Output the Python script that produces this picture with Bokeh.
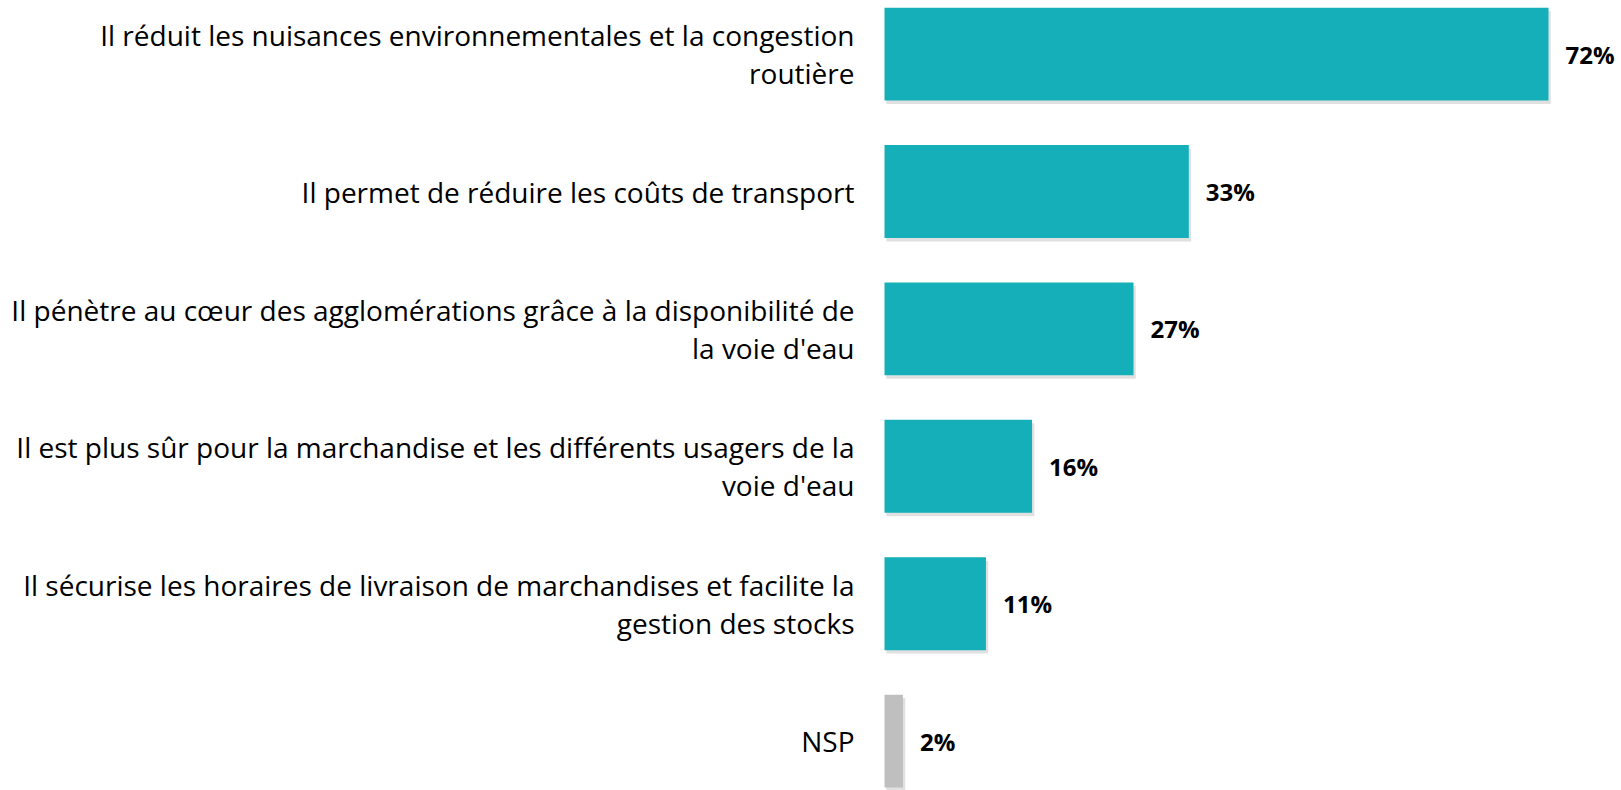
from bokeh.plotting import figure
from bokeh.models import ColumnDataSource, Range1d
from bokeh.core.properties import value
from bokeh.embed import file_html
from bokeh.resources import INLINE

categories = [
    "Il réduit les nuisances environnementales et la congestion\nroutière",
    "Il permet de réduire les coûts de transport",
    "Il pénètre au cœur des agglomérations grâce à la disponibilité de\nla voie d'eau",
    "Il est plus sûr pour la marchandise et les différents usagers de la\nvoie d'eau",
    "Il sécurise les horaires de livraison de marchandises et facilite la\ngestion des stocks",
    "NSP",
]
values = [72, 33, 27, 16, 11, 2]
value_labels = ["72%", "33%", "27%", "16%", "11%", "2%"]
colors = ["#14AFB8", "#14AFB8", "#14AFB8", "#14AFB8", "#14AFB8", "#BFBFBF"]

W, H = 1621, 790
px_per_unit = 9.222
x0_px = 884
y_step = 137.4
y0_px = 53.6

x_start = -x0_px / px_per_unit
x_end = (W - x0_px) / px_per_unit
y_top = -y0_px / y_step
y_bottom = (H - y0_px) / y_step

pos = list(range(len(categories)))
src = ColumnDataSource(dict(
    y=pos, v=values, lab=value_labels, cat=categories, col=colors,
    ys=[p + 0.025 for p in pos], vs=[v + 0.25 for v in values],
))

p = figure(width=W, height=H, output_backend="svg", toolbar_location=None,
           x_range=Range1d(x_start, x_end), y_range=Range1d(y_bottom, y_top),
           min_border=0)
p.axis.visible = False
p.grid.visible = False
p.outline_line_color = None
p.background_fill_color = "white"

# soft shadow
p.hbar(y="ys", left=0.2, right="vs", height=0.676, source=src,
       fill_color="#000000", fill_alpha=0.12, line_color=None)
p.hbar(y="y", left=0, right="v", height=0.676, source=src,
       fill_color="col", line_color=None)

p.text(x=0, y="y", text="cat", source=src, x_offset=-30,
       text_align="right", text_baseline="middle",
       text_font=value("Open Sans"), text_font_size="28px", text_color="#000000",
       text_line_height=1.01)
p.text(x="v", y="y", text="lab", source=src, x_offset=17,
       text_align="left", text_baseline="middle",
       text_font=value("Open Sans"), text_font_style="bold", text_font_size="24px",
       text_color="#000000")

open("out.html", "w").write(file_html(p, INLINE))
